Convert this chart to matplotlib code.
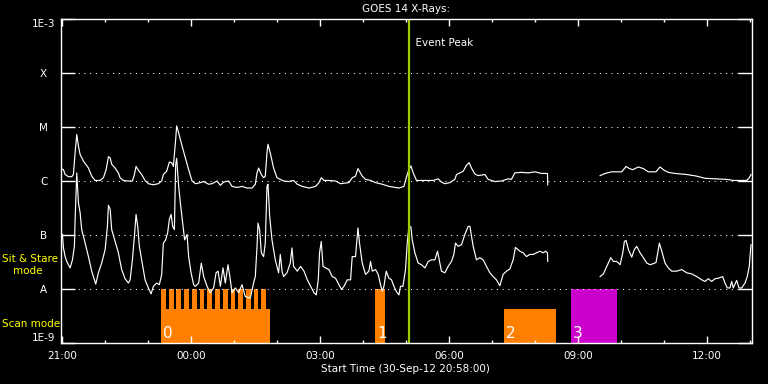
import numpy as np
import matplotlib
matplotlib.use("Agg")
import matplotlib.pyplot as plt
from matplotlib import transforms

# ---------------- data (time in minutes since 21:00 on 30-Sep-12) ----------------
t_long = [-2, 1.4, 3.8, 8.4, 13, 15.3, 17.7, 20, 22.3, 24.7,
          29.3, 36.3, 40.9, 45.6, 52.6, 57.2, 61, 64.2, 66.6, 68.8,
          73.5, 78.1, 80.5, 85.1, 92.1, 97.7, 100.5, 102.8, 106, 110.6,
          115.4, 120, 127, 133.9, 138.6, 140.9, 145.5, 149.3, 152.5, 154.9,
          158.1, 159.5, 162.3, 167, 171.6, 176.2, 181, 185.6, 192.6, 197.2,
          204.1, 208.9, 215.9, 220.5, 225.1, 232, 236.8, 243.8, 250.7, 257.7,
          264.7, 269.3, 271.7, 273.9, 277.7, 280.9, 283.2, 285.6, 287, 290.2,
          294.8, 299.6, 304.2, 308.8, 315.8, 322.7, 327.9, 334.9, 344.2, 353.4,
          358.2, 361.4, 365.2, 372.1, 381.3, 388.3, 400, 404.6, 409.2, 412.6,
          418.6, 423.2, 430.2, 437.2, 446.5, 455.8, 465.1, 469.8, 476.8, 481.4,
          484, 486.6, 489.8, 494.4, 506.1, 517.7, 524.6, 529.2, 534, 541,
          547.9, 550.2, 554.9, 559.5, 564.1, 567.9, 571.1, 575.8, 580.5, 589.8,
          594.4, 603.8, 613, 622.3, 626.9, 631.7, 640.9, 650.2, 659.6, 668.8,
          677.2, 677.6, 714, 750.7,
          757.7, 767, 781, 787, 791.6, 796.3, 804.1, 811.1, 818.1, 828.8,
          834.4, 840, 846, 855.3, 871.7, 885.6, 897.2, 913.5, 927.5, 936.7,
          955.4, 959, 961.4]
log_long = [-5.77, -5.79, -5.88, -5.92, -5.92, -5.88, -5.48, -5.14, -5.35, -5.51,
            -5.63, -5.76, -5.91, -5.99, -5.99, -5.94, -5.79, -5.55, -5.57, -5.69,
            -5.76, -5.85, -5.94, -5.99, -6.00, -6.00, -5.88, -5.73, -5.80, -5.88,
            -5.99, -6.05, -6.07, -6.05, -6.00, -5.88, -5.82, -5.65, -5.66, -5.73,
            -5.23, -4.98, -5.11, -5.35, -5.57, -5.79, -6.00, -6.05, -6.03, -6.01,
            -6.06, -6.05, -6.00, -6.08, -6.02, -6.00, -6.10, -6.12, -6.10, -6.13,
            -6.13, -6.06, -5.85, -5.76, -5.88, -5.94, -5.91, -5.48, -5.32, -5.48,
            -5.76, -5.94, -5.97, -6.00, -6.01, -5.99, -6.06, -6.10, -6.13, -6.10,
            -6.03, -5.94, -5.99, -5.99, -6.00, -6.05, -6.03, -5.94, -5.91, -5.77,
            -5.91, -5.97, -5.99, -6.03, -6.06, -6.10, -6.12, -6.13, -6.10, -5.88,
            -5.78, -5.72, -5.85, -5.99, -5.99, -5.99, -5.96, -6.02, -6.05, -6.03,
            -5.97, -5.88, -5.85, -5.82, -5.71, -5.66, -5.76, -5.87, -5.90, -5.88,
            -5.97, -6.01, -6.00, -5.96, -5.97, -5.85, -5.84, -5.85, -5.83, -5.86,
            -5.86, -6.07, np.nan, -5.90,
            -5.86, -5.83, -5.83, -5.73, -5.77, -5.79, -5.74, -5.77, -5.83, -5.83,
            -5.74, -5.80, -5.84, -5.86, -5.88, -5.91, -5.95, -5.96, -5.97, -5.99,
            -5.99, -5.94, -5.88]

t_short = [-2, 0, 1.4, 3.8, 6, 10.7, 14, 16.7, 17.7, 20,
           22.3, 24.7, 26.9, 31.7, 36.3, 40.9, 46.5, 50.2, 54.8, 59.6,
           62.8, 64.2, 66.6, 68.8, 73.5, 78.1, 82.7, 87.5, 92.1, 94.5,
           97.7, 100.5, 102.8, 105.1, 107.4, 110.6, 115.4, 120, 123.8, 127,
           131.6, 135.3, 138.6, 140.9, 144.1, 146.9, 149.3, 151.7, 153.9, 156.3,
           158.1, 159.5, 162.3, 164.6, 167.9, 170.6, 174, 176.2, 179.6, 183.2,
           185.6, 190.2, 193.9, 197.2, 201.9, 206.5, 211.1, 214.5, 217.3, 220.5,
           224.2, 227.4, 231.2, 234.4, 236.8, 241.4, 246, 250.7, 255.3, 262.3,
           266.9, 269.3, 271.7, 273.1, 275.3, 277.7, 280.9, 283.2, 285.6, 287,
           289.3, 292.6, 297.2, 301.8, 304.2, 306.6, 308.8, 313.5, 318.1, 320.5,
           322.7, 327.9, 332.5, 337.3, 341.9, 346.5, 351.2, 354.4, 357.2, 359,
           361.4, 363.8, 367.4, 372.1, 376.7, 381.3, 386.1, 389.7, 393.1, 397.7,
           402.3, 404.6, 409.2, 412.6, 414.8, 418.6, 423.2, 427.9, 430.2, 432.6,
           437.2, 440.9, 444.1, 446.5, 448.9, 452.1, 455.8, 459.5, 462.8, 466,
           469.8, 472, 475.4, 479, 481.4, 483.8, 486.6, 488.4, 492.1, 496.7,
           501.3, 506.1, 510.7, 515.3, 520, 523.7, 527, 529.2, 534, 538.6,
           543.2, 546.5, 548.8, 552.6, 557.2, 561.9, 566.5, 568.9, 573.5, 578.1,
           582.8, 587.4, 592, 596.8, 601.4, 606, 610.7, 615.3, 620, 624.7,
           629.3, 632.5, 638.6, 643.3, 647.9, 652.6, 657.2, 661.8, 666.6, 671.2,
           674.4, 677.2, 677.6, 714,
           750.7, 755.3, 759.1, 762.3, 765.6, 769.3, 774, 778.6, 782.4, 784.6,
           787, 790.2, 794.9, 798.5, 801.9, 806.5, 811.1, 815.9, 820.5, 825.1,
           828.8, 832, 833.4, 836.8, 841.4, 846, 850.7, 857.7, 864.7, 871.7,
           878.6, 885.6, 892.6, 897.2, 901.8, 906.5, 911.1, 915.8, 921.9, 925.1,
           928.3, 932.1, 934.4, 936.7, 941.4, 944.6, 948.4, 953, 956.2, 959,
           960, 961.4]
log_short = [-6.96, -6.99, -7.24, -7.40, -7.49, -7.61, -7.46, -7.21, -6.71, -5.85,
             -6.40, -6.59, -6.90, -7.15, -7.40, -7.67, -7.91, -7.70, -7.52, -7.27,
             -6.84, -6.45, -6.52, -6.90, -7.12, -7.33, -7.64, -7.81, -7.89, -7.83,
             -7.46, -7.02, -6.62, -6.84, -7.21, -7.46, -7.83, -7.98, -8.09, -7.95,
             -7.89, -7.92, -7.73, -7.15, -7.09, -6.96, -6.71, -6.62, -6.84, -6.90,
             -5.70, -5.58, -6.10, -6.40, -6.78, -7.09, -6.99, -7.40, -7.70, -7.92,
             -7.95, -7.89, -7.52, -7.77, -7.95, -8.07, -7.98, -7.70, -7.67, -7.95,
             -7.61, -7.89, -7.55, -7.83, -8.07, -7.98, -8.07, -7.92, -8.14, -8.17,
             -7.89, -7.77, -7.21, -6.78, -6.90, -7.33, -7.40, -7.15, -6.10, -6.06,
             -6.65, -7.09, -7.46, -7.70, -7.36, -7.67, -7.77, -7.70, -7.52, -7.24,
             -7.58, -7.67, -7.58, -7.67, -7.83, -7.95, -8.07, -8.11, -7.83, -7.33,
             -7.12, -7.58, -7.61, -7.64, -7.77, -7.80, -7.92, -8.01, -7.95, -7.83,
             -7.83, -7.40, -7.40, -6.87, -7.15, -7.52, -7.73, -7.67, -7.49, -7.67,
             -7.64, -7.73, -7.92, -8.04, -7.95, -7.67, -7.80, -7.83, -7.95, -8.04,
             -8.11, -7.95, -7.95, -7.64, -7.15, -6.84, -6.85, -7.09, -7.33, -7.52,
             -7.55, -7.61, -7.49, -7.46, -7.46, -7.30, -7.52, -7.67, -7.70, -7.58,
             -7.49, -7.36, -7.15, -7.21, -7.18, -6.99, -6.84, -6.84, -7.21, -7.46,
             -7.42, -7.46, -7.58, -7.70, -7.77, -7.83, -7.94, -7.73, -7.67, -7.63,
             -7.46, -7.23, -7.30, -7.33, -7.40, -7.36, -7.36, -7.33, -7.30, -7.33,
             -7.30, -7.33, -7.49, np.nan,
             -7.77, -7.72, -7.61, -7.52, -7.42, -7.49, -7.49, -7.55, -7.33, -7.12,
             -7.10, -7.27, -7.41, -7.27, -7.21, -7.33, -7.42, -7.52, -7.55, -7.53,
             -7.51, -7.27, -7.15, -7.30, -7.52, -7.61, -7.67, -7.67, -7.64, -7.70,
             -7.72, -7.77, -7.83, -7.86, -7.81, -7.86, -7.81, -7.80, -7.77, -7.89,
             -7.98, -7.98, -7.86, -7.98, -7.84, -7.98, -7.98, -7.89, -7.77, -7.58,
             -7.40, -7.18]

# observing-mode blocks
scan_start = [138.1, 616.7]
scan_end = [290.2, 689.3]
scan_level = 4.2e-9
stare_start = [138.1, 148.5, 159.0, 170.0, 181.0, 191.5, 202.5, 213.5, 224.0,
               235.0, 245.5, 256.5, 267.0, 277.5, 436.7]
stare_end = [144.7, 155.1, 165.6, 176.6, 187.6, 198.1, 209.1, 220.1, 230.6,
             241.6, 252.1, 263.1, 273.6, 284.1, 450.7]
stare_level = 1e-8
other_start = [710.2]
other_end = [774.4]
other_level = 1e-8
block_labels = ["0", "1", "2", "3"]
block_label_pos = [138.1, 436.7, 616.7, 710.2]

event_peak = 483.5
x_start, x_end = -2.0, 962.8

ytick_vals = [1e-9, 1e-8, 1e-7, 1e-6, 1e-5, 1e-4, 1e-3]
ytick_labels = ["1E-9", "A", "B", "C", "M", "X", "1E-3"]
xtick_vals = [0, 180, 360, 540, 720, 900]
xtick_labels = ["21:00", "00:00", "03:00", "06:00", "09:00", "12:00"]

ORANGE = "#ff8000"
MAGENTA = "#cc00cc"
YELLOW = "#ffff00"
EVENT = "#9fcc00"
FS = 7.5

plt.rcParams['font.family'] = ['DejaVu Sans']

fig = plt.figure(figsize=(7.68, 3.84), dpi=100, facecolor="black")
W, H = 768.0, 384.0
ax = fig.add_axes([61 / W, 1 - 343 / H, (752 - 61) / W, (343 - 19) / H])
ax.set_facecolor("black")
ax.set_yscale("log")
ax.set_ylim(1e-9, 1e-3)
ax.set_xlim(x_start, x_end)

# mode blocks
for s, e in zip(scan_start, scan_end):
    ax.bar(s, scan_level - 1e-9, width=e - s, bottom=1e-9, align="edge",
           color=ORANGE, linewidth=0, zorder=1)
for s, e in zip(stare_start, stare_end):
    ax.bar(s, stare_level - 1e-9, width=e - s, bottom=1e-9, align="edge",
           color=ORANGE, linewidth=0, zorder=1)
for s, e in zip(other_start, other_end):
    ax.bar(s, other_level - 1e-9, width=e - s, bottom=1e-9, align="edge",
           color=MAGENTA, linewidth=0, zorder=1)

lab_tr = transforms.offset_copy(ax.transData, fig=fig, x=2.0, y=5.0, units="dots")
for lab, pos in zip(block_labels, block_label_pos):
    ax.text(pos, 1e-9, lab, transform=lab_tr, color="white", fontsize=11,
            ha="left", va="baseline", zorder=5)

# grid lines (dotted)
for v in ytick_vals[1:-1]:
    ax.axhline(v, color="white", linewidth=0.75, linestyle=(0, (1, 4.5)), zorder=2)

# curves
ax.plot(t_long, 10 ** np.array(log_long), color="white", linewidth=0.85, zorder=3)
ax.plot(t_short, 10 ** np.array(log_short), color="white", linewidth=0.85, zorder=3)

# event peak
ax.axvline(event_peak, color=EVENT, linewidth=1.6, zorder=4)
ax.text(event_peak, 10 ** -3.45, "  Event Peak", color="white", fontsize=FS,
        ha="left", va="center", zorder=5)

# spines and ticks
for sp in ax.spines.values():
    sp.set_color("white")
    sp.set_linewidth(1.0)
    sp.set_zorder(6)

ax.set_yticks(ytick_vals)
ax.set_yticklabels(ytick_labels)
ax.yaxis.set_minor_locator(matplotlib.ticker.NullLocator())
ax.tick_params(axis="y", which="major", direction="in", length=10, width=1.0,
               color="white", labelcolor="white", labelsize=FS, pad=12.5,
               left=True, right=True)
for lab in ax.get_yticklabels():
    lab.set_horizontalalignment("center")
ylabs = ax.get_yticklabels()
ylabs[0].set_verticalalignment("bottom")
ylabs[-1].set_verticalalignment("top")

ax.set_xticks(xtick_vals)
ax.set_xticklabels(xtick_labels)
ax.set_xticks(list(range(60, 961, 60)), minor=True)
ax.tick_params(axis="x", which="major", direction="in", length=5, width=1.0,
               color="white", labelcolor="white", labelsize=FS, pad=5.5,
               top=True, bottom=True)
ax.tick_params(axis="x", which="minor", direction="in", length=2.5, width=1.0,
               color="white", top=True, bottom=True)

# figure texts
fig.text(406 / W, 1 - 9 / H, "GOES 14 X-Rays:", color="white", fontsize=FS,
         ha="center", va="center")
fig.text(405 / W, 1 - 368.5 / H, "Start Time (30-Sep-12 20:58:00)", color="white",
         fontsize=FS, ha="center", va="center")
fig.text(2 / W, 1 - 259 / H, "Sit & Stare", color=YELLOW, fontsize=FS,
         ha="left", va="center")
fig.text(13 / W, 1 - 271 / H, "mode", color=YELLOW, fontsize=FS,
         ha="left", va="center")
fig.text(2 / W, 1 - 324 / H, "Scan mode", color=YELLOW, fontsize=FS,
         ha="left", va="center")

fig.savefig("out.png", dpi=100, facecolor="black")
